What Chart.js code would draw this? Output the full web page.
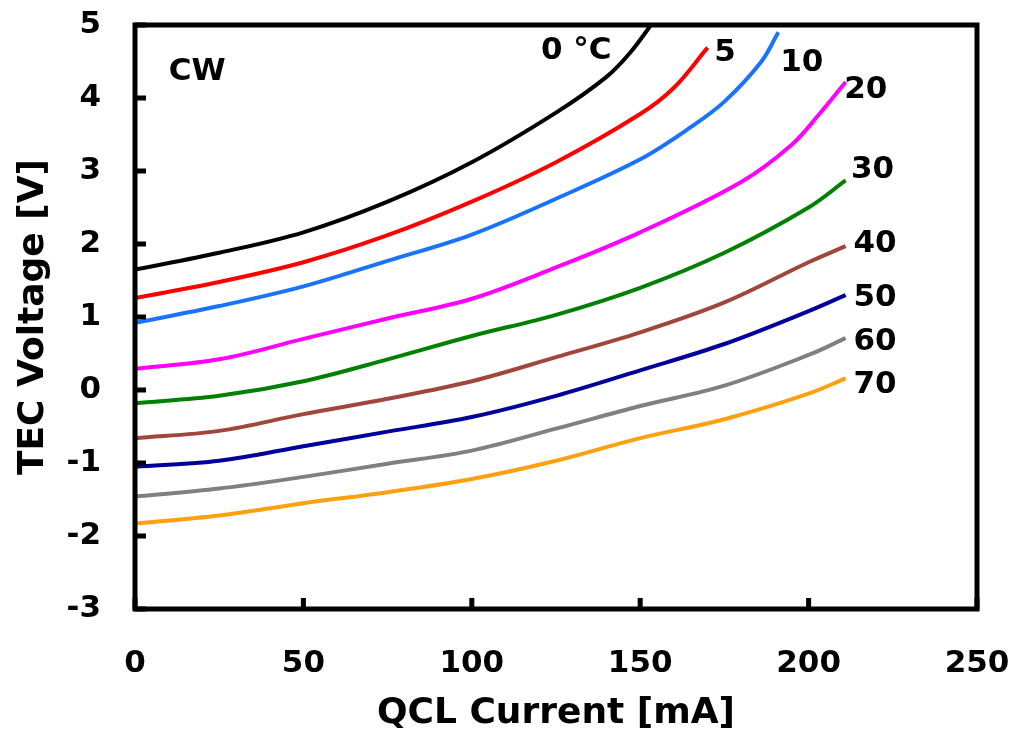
<!DOCTYPE html>
<html>
<head>
<meta charset="utf-8">
<script src="https://cdn.jsdelivr.net/npm/chart.js@4/dist/chart.umd.min.js"></script>
<style>
  body { margin: 0; background: #fff; }
  canvas { display: block; }
</style>
</head>
<body>
<canvas id="tecChart" width="1015" height="737"></canvas>
<script>
// temperatures of the heat sink, one curve each
const tempLabels = ['0 °C', '5', '10', '20', '30', '40', '50', '60', '70'];

// QCL current [mA] for each curve
const current0  = [0, 25, 50, 75, 100, 125, 140, 147, 154];
const current5  = [0, 25, 50, 75, 100, 125, 150, 160, 170];
const current10 = [0, 25, 50, 75, 100, 125, 150, 165, 175, 186, 191];
const current20 = [0, 25, 50, 75, 100, 125, 150, 180, 195, 203, 211];
const current30 = [0, 25, 50, 75, 100, 125, 150, 175, 200, 211];
const current40 = [0, 25, 50, 75, 100, 125, 150, 175, 200, 211];
const current50 = [0, 25, 50, 75, 100, 125, 150, 175, 200, 211];
const current60 = [0, 25, 50, 75, 100, 125, 150, 175, 200, 211];
const current70 = [0, 25, 50, 75, 100, 125, 150, 175, 200, 211];

// TEC voltage [V] for each curve
const volt0  = [1.65, 1.88, 2.16, 2.58, 3.12, 3.80, 4.29, 4.62, 5.05];
const volt5  = [1.26, 1.48, 1.75, 2.12, 2.58, 3.12, 3.78, 4.14, 4.69];
const volt10 = [0.92, 1.15, 1.42, 1.77, 2.13, 2.62, 3.16, 3.60, 3.95, 4.50, 4.90];
const volt20 = [0.29, 0.42, 0.70, 0.98, 1.25, 1.68, 2.16, 2.85, 3.36, 3.77, 4.22];
const volt30 = [-0.18, -0.08, 0.12, 0.42, 0.74, 1.03, 1.40, 1.88, 2.50, 2.87];
const volt40 = [-0.66, -0.56, -0.33, -0.12, 0.12, 0.45, 0.79, 1.20, 1.75, 1.97];
const volt50 = [-1.05, -0.97, -0.77, -0.57, -0.37, -0.08, 0.27, 0.63, 1.08, 1.30];
const volt60 = [-1.46, -1.35, -1.19, -1.01, -0.83, -0.53, -0.22, 0.06, 0.48, 0.71];
const volt70 = [-1.83, -1.72, -1.55, -1.40, -1.22, -0.97, -0.66, -0.40, -0.05, 0.16];

const xTicks = [0, 50, 100, 150, 200, 250];
const yTicks = [-3, -2, -1, 0, 1, 2, 3, 4, 5];

const currents = [current0, current5, current10, current20, current30, current40, current50, current60, current70];
const volts = [volt0, volt5, volt10, volt20, volt30, volt40, volt50, volt60, volt70];
const colors = ['#000000', '#ff0000', '#1a73ff', '#ff00ff', '#008000', '#a0463c', '#000099', '#808080', '#ffa010'];

// curve labels, placed in data coordinates
const curveNotes = [
    { text: 'CW', x: 18.5, y: 4.35 },
    { text: '0 °C', x: 131, y: 4.64 },
    { text: '5', x: 175.2, y: 4.62 },
    { text: '10', x: 198, y: 4.48 },
    { text: '20', x: 217, y: 4.11 },
    { text: '30', x: 219, y: 3.01 },
    { text: '40', x: 219.7, y: 2.00 },
    { text: '50', x: 219.7, y: 1.26 },
    { text: '60', x: 219.7, y: 0.66 },
    { text: '70', x: 219.7, y: 0.07 }
];

const FONT = '"DejaVu Sans", Verdana, sans-serif';

const datasets = tempLabels.map((name, i) => ({
    label: name,
    data: currents[i].map((c, j) => ({ x: c, y: volts[i][j] })),
    borderColor: colors[i],
    borderWidth: 4,
    pointRadius: 0,
    tension: 0.35,
    fill: false
}));

// frame plus inward tick marks, drawn over the data like the original
const framePlugin = {
    id: 'frame',
    afterDatasetsDraw(chart) {
        const { ctx, chartArea: a, scales } = chart;
        ctx.save();
        ctx.strokeStyle = '#000';
        ctx.lineWidth = 5;
        ctx.strokeRect(a.left, a.top, a.right - a.left, a.bottom - a.top);
        ctx.beginPath();
        xTicks.forEach(v => {
            const px = scales.x.getPixelForValue(v);
            ctx.moveTo(px, a.bottom);
            ctx.lineTo(px, a.bottom - 11);
        });
        yTicks.forEach(v => {
            const py = scales.y.getPixelForValue(v);
            ctx.moveTo(a.left, py);
            ctx.lineTo(a.left + 11, py);
        });
        ctx.stroke();

        ctx.fillStyle = '#000';
        ctx.font = 'bold 31px ' + FONT;
        ctx.textBaseline = 'middle';
        ctx.textAlign = 'center';
        curveNotes.forEach(n => {
            ctx.fillText(n.text, scales.x.getPixelForValue(n.x), scales.y.getPixelForValue(n.y));
        });
        ctx.restore();
    }
};

new Chart(document.getElementById('tecChart').getContext('2d'), {
    type: 'line',
    data: { datasets: datasets },
    options: {
        responsive: false,
        animation: false,
        layout: { padding: { top: 25, right: 38, left: 0, bottom: 0 } },
        plugins: { legend: { display: false }, tooltip: { enabled: false } },
        scales: {
            x: {
                type: 'linear',
                min: 0, max: 250,
                afterFit(scale) {
                    scale.height = 128;
                    scale.paddingLeft = 0;
                    scale.paddingRight = 0;
                },
                afterBuildTicks(scale) { scale.ticks = xTicks.map(v => ({ value: v })); },
                grid: { display: false, drawTicks: false },
                border: { display: false },
                ticks: { color: '#000', padding: 36, font: { family: FONT, size: 31, weight: 'bold' } },
                title: {
                    display: true, text: 'QCL Current [mA]', color: '#000',
                    padding: { top: 6, bottom: 2 },
                    font: { family: FONT, size: 36, weight: 'bold' }
                }
            },
            y: {
                min: -3, max: 5,
                afterFit(scale) {
                    scale.width = 135;
                    scale.paddingTop = 0;
                    scale.paddingBottom = 0;
                },
                afterBuildTicks(scale) { scale.ticks = yTicks.map(v => ({ value: v })); },
                grid: { display: false, drawTicks: false },
                border: { display: false },
                ticks: { color: '#000', padding: 34, font: { family: FONT, size: 31, weight: 'bold' } },
                title: {
                    display: true, text: 'TEC Voltage [V]', color: '#000',
                    padding: { top: 12, bottom: 0 },
                    font: { family: FONT, size: 36, weight: 'bold' }
                }
            }
        }
    },
    plugins: [framePlugin]
});
</script>
</body>
</html>
